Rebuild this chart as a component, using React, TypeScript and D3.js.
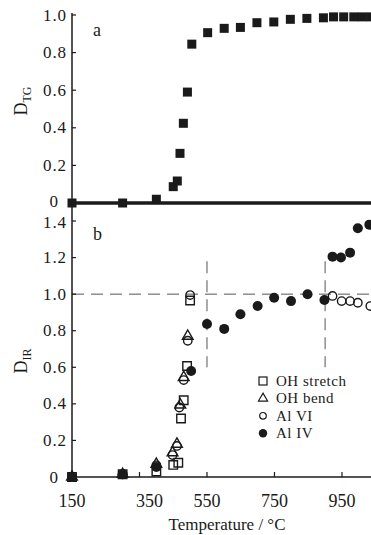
import * as d3 from "d3";
import { useEffect, useRef } from "react";

// panel a: TG
const tgTemp = [150, 300, 400, 450, 462, 470, 480, 492, 505, 552, 601, 649, 698, 748, 797, 846, 895, 925, 955, 985, 1010, 1035];
const tgD = [0, 0, 0.02, 0.087, 0.117, 0.264, 0.424, 0.59, 0.845, 0.906, 0.929, 0.934, 0.959, 0.963, 0.977, 0.982, 0.985, 0.99, 0.99, 0.99, 0.99, 0.99];

// panel b: IR
const ohStretchT = [150, 300, 400, 450, 465, 473, 481, 491, 500];
const ohStretchD = [0, 0.015, 0.03, 0.066, 0.078, 0.32, 0.42, 0.607, 0.965];
const ohBendT = [150, 300, 400, 448, 461, 471, 481, 493];
const ohBendD = [0, 0.015, 0.07, 0.133, 0.18, 0.394, 0.545, 0.77];
const alVIT = [150, 300, 400, 448, 461, 468, 481, 493, 500, 922, 949, 974, 997, 1034];
const alVID = [0, 0.015, 0.064, 0.12, 0.17, 0.38, 0.53, 0.745, 0.995, 0.99, 0.962, 0.962, 0.953, 0.935];
const alIVT = [150, 300, 400, 503, 550, 601, 649, 700, 749, 799, 848, 898, 922, 947, 974, 997, 1031];
const alIVD = [0, 0.015, 0.055, 0.58, 0.837, 0.81, 0.89, 0.935, 0.98, 0.962, 0.999, 0.968, 1.205, 1.2, 1.227, 1.36, 1.38];

const xTicks = [150, 350, 550, 750, 950];
const topTicks = [0, 0.2, 0.4, 0.6, 0.8, 1.0];
const botTicks = [0, 0.2, 0.4, 0.6, 0.8, 1.0, 1.2, 1.4];
const guideTemps = [550, 900];
const legendLabels = ["OH stretch", "OH bend", "Al VI", "Al IV"];

const FONT = "'Liberation Serif', 'Times New Roman', serif";

export default function App() {
  const ref = useRef<SVGSVGElement | null>(null);
  useEffect(() => {
    if (!ref.current) return;
    const width = 371, height = 535;
    const svg = d3.select(ref.current);
    svg.selectAll("*").remove();
    svg.append("rect").attr("width", width).attr("height", height).attr("fill", "#fff");

    const x = d3.scaleLinear().domain([150, 1036]).range([72, 371]);
    const yTop = d3.scaleLinear().domain([0, 1]).range([203, 15]);
    const yBot = d3.scaleLinear().domain([0, 1.4]).range([477, 221]);
    const ink = "#1a1a1a";

    // dashed guides (panel b)
    const g = svg.append("g").attr("stroke", "#555").attr("stroke-width", 1).attr("stroke-dasharray", "12,7");
    g.append("line").attr("x1", x(150)).attr("x2", width).attr("y1", yBot(1)).attr("y2", yBot(1));
    g.selectAll("line.v").data(guideTemps).join("line").attr("class", "v")
      .attr("x1", (d) => x(d)).attr("x2", (d) => x(d))
      .attr("y1", yBot(1.18)).attr("y2", yBot(0.6));

    // axes lines
    svg.append("line").attr("x1", 72).attr("x2", 72).attr("y1", 13).attr("y2", 478).attr("stroke", ink).attr("stroke-width", 1.5);
    svg.append("line").attr("x1", 72).attr("x2", width).attr("y1", yTop(0)).attr("y2", yTop(0)).attr("stroke", ink).attr("stroke-width", 3.5);
    svg.append("line").attr("x1", 72).attr("x2", width).attr("y1", yBot(0)).attr("y2", yBot(0)).attr("stroke", ink).attr("stroke-width", 1.5);

    // y ticks + labels
    const yTick = (scale: d3.ScaleLinear<number, number>, ticks: number[], shift: (d: number) => number) => {
      const gg = svg.append("g");
      gg.selectAll("line").data(ticks).join("line")
        .attr("x1", 72).attr("x2", 76).attr("y1", (d) => scale(d)).attr("y2", (d) => scale(d))
        .attr("stroke", ink).attr("stroke-width", 1.2);
      gg.selectAll("text").data(ticks).join("text")
        .attr("x", (d) => (d === 0 ? 59 : 67)).attr("y", (d) => scale(d) + 5.5 + shift(d))
        .attr("text-anchor", "end").attr("font-family", FONT).attr("font-size", 17)
        .attr("letter-spacing", 0.9).attr("fill", ink)
        .text((d) => (d === 0 ? "0" : d3.format(".1f")(d)));
    };
    yTick(yTop, topTicks, (d) => (d === 0 ? -2 : 0));
    yTick(yBot, botTicks, (d) => (d === 1.4 ? 1 : 0));

    // x ticks + labels
    const xg = svg.append("g");
    xg.selectAll("line").data(xTicks.slice(1)).join("line")
      .attr("x1", (d) => x(d)).attr("x2", (d) => x(d)).attr("y1", yBot(0)).attr("y2", yBot(0) - 5)
      .attr("stroke", ink).attr("stroke-width", 1.2);
    xg.selectAll("text").data(xTicks).join("text")
      .attr("x", (d) => x(d) + (d === 350 ? 10 : 0)).attr("y", 507)
      .attr("text-anchor", "middle").attr("font-family", FONT).attr("font-size", 18).attr("fill", ink)
      .text((d) => String(d));

    svg.append("text").attr("x", 227).attr("y", 530).attr("text-anchor", "middle")
      .attr("font-family", FONT).attr("font-size", 17).attr("fill", ink).text("Temperature / °C");

    // y titles
    const yTitle = (cy: number, sub: string) => {
      const t = svg.append("text").attr("transform", `translate(27,${cy}) rotate(-90)`)
        .attr("text-anchor", "middle").attr("font-family", FONT).attr("font-size", 18).attr("fill", ink);
      t.append("tspan").text("D");
      t.append("tspan").attr("font-size", 12).attr("dy", 4).text(sub);
    };
    yTitle(101, "TG");
    yTitle(361, "IR");

    // panel letters
    svg.append("text").attr("x", 93).attr("y", 36).attr("font-family", FONT).attr("font-size", 18).attr("fill", ink).text("a");
    svg.append("text").attr("x", 93).attr("y", 240).attr("font-family", FONT).attr("font-size", 18).attr("fill", ink).text("b");

    // panel a markers
    svg.append("g").selectAll("rect").data(d3.zip(tgTemp, tgD)).join("rect")
      .attr("x", (d) => x(d[0]) - 4.5).attr("y", (d) => yTop(d[1]) - 4.5)
      .attr("width", 9).attr("height", 9).attr("fill", ink);

    // panel b markers
    const sq = d3.symbol().type(d3.symbolSquare).size(72);
    const tri = d3.symbol().type(d3.symbolTriangle).size(50);
    svg.append("g").selectAll("path").data(d3.zip(ohStretchT, ohStretchD)).join("path")
      .attr("d", sq).attr("transform", (d) => `translate(${x(d[0])},${yBot(d[1])})`)
      .attr("fill", "none").attr("stroke", ink).attr("stroke-width", 1.4);
    svg.append("g").selectAll("path").data(d3.zip(ohBendT, ohBendD)).join("path")
      .attr("d", tri).attr("transform", (d) => `translate(${x(d[0])},${yBot(d[1])})`)
      .attr("fill", "none").attr("stroke", ink).attr("stroke-width", 1.4);
    svg.append("g").selectAll("circle").data(d3.zip(alVIT, alVID)).join("circle")
      .attr("cx", (d) => x(d[0])).attr("cy", (d) => yBot(d[1])).attr("r", 4.2)
      .attr("fill", "none").attr("stroke", ink).attr("stroke-width", 1.4);
    svg.append("g").selectAll("circle").data(d3.zip(alIVT, alIVD)).join("circle")
      .attr("cx", (d) => x(d[0])).attr("cy", (d) => yBot(d[1])).attr("r", 5)
      .attr("fill", ink);

    // legend
    const lg = svg.append("g").attr("transform", "translate(263,381)");
    const rowY = (i: number) => i * 17.4;
    lg.append("rect").attr("x", -4).attr("y", rowY(0) - 4).attr("width", 8).attr("height", 8)
      .attr("fill", "none").attr("stroke", ink).attr("stroke-width", 1.2);
    lg.append("path").attr("d", d3.symbol().type(d3.symbolTriangle).size(36)())
      .attr("transform", `translate(0,${rowY(1)})`).attr("fill", "none").attr("stroke", ink).attr("stroke-width", 1.2);
    lg.append("circle").attr("cy", rowY(2)).attr("r", 3.3).attr("fill", "none").attr("stroke", ink).attr("stroke-width", 1.2);
    lg.append("circle").attr("cy", rowY(3)).attr("r", 4.2).attr("fill", ink);
    lg.selectAll("text").data(legendLabels).join("text")
      .attr("x", 13).attr("y", (_, i) => rowY(i) + 5)
      .attr("font-family", FONT).attr("font-size", 15).attr("letter-spacing", 0.5).attr("fill", ink)
      .text((d) => d);
  }, []);
  return (
    <svg ref={ref} width={371} height={535}
      style={{ position: "absolute", left: 0, top: 0, display: "block" }} />
  );
}
